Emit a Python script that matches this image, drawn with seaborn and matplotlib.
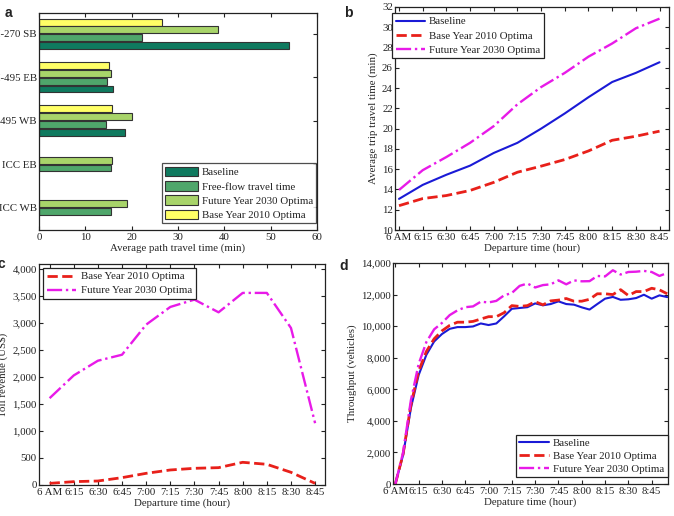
import numpy as np
import pandas as pd
import matplotlib
matplotlib.use("Agg")
import matplotlib.pyplot as plt
import seaborn as sns
from matplotlib.ticker import FuncFormatter

# ---------------- data ----------------
routes = ["I-270 SB", "I-495 EB", "I-495 WB", "ICC EB", "ICC WB"]
baseline_path = [53.9, 15.9, 18.5, np.nan, np.nan]
freeflow_path = [22.3, 14.7, 14.4, 15.6, 15.6]
future_path = [38.7, 15.6, 20.0, 15.7, 18.9]
base2010_path = [26.5, 15.1, 15.7, np.nan, np.nan]

times = ["6 AM", "6:15", "6:30", "6:45", "7:00", "7:15", "7:30", "7:45",
         "8:00", "8:15", "8:30", "8:45"]

trip_baseline = [13.07, 14.45, 15.45, 16.35, 17.6, 18.6, 20.0, 21.5, 23.1, 24.6, 25.5, 26.55]
trip_base2010 = [12.4, 13.1, 13.4, 13.9, 14.7, 15.7, 16.3, 16.95, 17.8, 18.85, 19.25, 19.75]
trip_future = [13.95, 15.9, 17.2, 18.6, 20.25, 22.4, 24.1, 25.5, 27.1, 28.4, 29.9, 30.85]

toll_base2010 = [30, 62, 74, 136, 216, 278, 309, 321, 420, 383, 235, 30]
toll_future = [1607, 2028, 2300, 2411, 2968, 3295, 3431, 3196, 3555, 3555, 2906, 1144]

thr_minutes = [0, 5, 10, 15, 20, 25, 30, 35, 40, 45, 50, 55, 60, 65, 70, 75, 80, 85,
               90, 95, 100, 105, 110, 115, 120, 125, 130, 135, 140, 145, 150, 155,
               160, 165, 170, 175]
thr_baseline = [0, 1840, 4800, 6900, 8190, 9030, 9500, 9830, 9940, 9940, 9980, 10170,
                10070, 10170, 10620, 11100, 11150, 11200, 11440, 11320, 11400, 11570,
                11400, 11360, 11190, 11050, 11400, 11740, 11850, 11670, 11700, 11780,
                11990, 11740, 11950, 11840]
thr_base2010 = [0, 1900, 5000, 7150, 8400, 9200, 9700, 10050, 10250, 10250, 10300, 10450,
                10600, 10600, 10850, 11300, 11250, 11300, 11550, 11350, 11600, 11650,
                11750, 11580, 11580, 11700, 12050, 12050, 12000, 12310, 11940, 12190,
                12190, 12400, 12300, 12050]
thr_future = [0, 2000, 5300, 7600, 9000, 9800, 10200, 10700, 11000, 11200, 11250, 11550,
              11500, 11600, 11950, 12100, 12550, 12700, 12450, 12600, 12650, 12900,
              12650, 12900, 12840, 12850, 13180, 13150, 13540, 13270, 13430, 13450,
              13500, 13430, 13180, 13370]
thr_tick_minutes = [0, 15, 30, 45, 60, 75, 90, 105, 120, 135, 150, 165]

# ---------------- style ----------------
FS = 7.8
sns.set_style("ticks")
plt.rcParams["font.family"] = ["Liberation Serif", "DejaVu Serif"]
plt.rcParams["font.size"] = FS
plt.rcParams["xtick.direction"] = "in"
plt.rcParams["ytick.direction"] = "in"
plt.rcParams["xtick.top"] = True
plt.rcParams["ytick.right"] = True
plt.rcParams["axes.linewidth"] = 0.9
plt.rcParams["axes.edgecolor"] = "#222222"
plt.rcParams["xtick.major.size"] = 3
plt.rcParams["ytick.major.size"] = 3
plt.rcParams["xtick.major.pad"] = 2
plt.rcParams["ytick.major.pad"] = 1.5
plt.rcParams["xtick.labelsize"] = FS
plt.rcParams["ytick.labelsize"] = FS
plt.rcParams["axes.labelsize"] = FS
plt.rcParams["text.color"] = "#222222"
plt.rcParams["xtick.color"] = "#222222"
plt.rcParams["ytick.color"] = "#222222"

W, H = 674, 516
fig = plt.figure(figsize=(W / 100, H / 100), dpi=100)


def ax_px(left, top, right, bottom):
    return fig.add_axes([left / W, 1 - bottom / H, (right - left) / W, (bottom - top) / H])


def legend_box(ax, **kw):
    leg = ax.legend(frameon=True, fancybox=False, borderpad=0.35, handletextpad=0.4,
                    borderaxespad=0, fontsize=FS, **kw)
    leg.get_frame().set_edgecolor("#222222")
    leg.get_frame().set_linewidth(0.9)
    leg.get_frame().set_alpha(1)
    return leg


comma = FuncFormatter(lambda v, p: f"{int(v):,}")

c_blue = "#1a1ad6"
c_red = "#e8201a"
c_mag = "#e81ae8"

# ---------------- panel a ----------------
ax_a = ax_px(39, 13, 317, 230)
s_base = "Baseline"
s_free = "Free-flow travel time"
s_fut = "Future Year 2030 Optima"
s_b10 = "Base Year 2010 Optima"
rows = []
for i, r in enumerate(routes):
    for s, vals in [(s_base, baseline_path), (s_free, freeflow_path),
                    (s_fut, future_path), (s_b10, base2010_path)]:
        if not np.isnan(vals[i]):
            rows.append({"route": r, "series": s, "value": vals[i]})
df_a = pd.DataFrame(rows)
pal_a = {s_base: "#0f7a5f", s_free: "#4fa66b", s_fut: "#a8d46a", s_b10: "#ffff66"}
sns.barplot(data=df_a, y="route", x="value", hue="series", order=routes,
            hue_order=[s_b10, s_fut, s_free, s_base], palette=pal_a, orient="h",
            width=0.72, gap=0.12, edgecolor="#333333", linewidth=0.8,
            errorbar=None, saturation=1, ax=ax_a)
ax_a.set_xlim(0, 60)
ax_a.set_ylim(4.52, -0.48)
ax_a.set_xticks(range(0, 61, 10))
ax_a.set_xlabel("Average path travel time (min)", labelpad=1)
ax_a.set_ylabel("")
h, l = ax_a.get_legend_handles_labels()
order = [l.index(s) for s in [s_base, s_free, s_fut, s_b10]]
ax_a.get_legend().remove()
leg = ax_a.legend([h[k] for k in order], [l[k] for k in order], loc="lower right",
                  bbox_to_anchor=(0.998, 0.03), frameon=True, fancybox=False,
                  borderpad=0.3, handletextpad=0.4, borderaxespad=0, fontsize=FS,
                  handlelength=3.0, handleheight=1.0, labelspacing=0.35)
leg.get_frame().set_edgecolor("#222222")
leg.get_frame().set_linewidth(0.9)

# ---------------- panel b ----------------
ax_b = ax_px(395, 7, 669, 230)
xi = list(range(len(times)))
sns.lineplot(x=xi, y=trip_baseline, color=c_blue, lw=1.5, label="Baseline", ax=ax_b)
sns.lineplot(x=xi, y=trip_base2010, color=c_red, lw=2.0, linestyle="--",
             label="Base Year 2010 Optima", ax=ax_b)
sns.lineplot(x=xi, y=trip_future, color=c_mag, lw=1.7, linestyle="-.",
             label="Future Year 2030 Optima", ax=ax_b)
ax_b.set_xlim(-0.17, 11.4)
ax_b.set_ylim(10, 32)
ax_b.set_yticks(range(10, 33, 2))
ax_b.set_xticks(xi)
ax_b.set_xticklabels(times)
ax_b.set_xlabel("Departure time (hour)", labelpad=1)
ax_b.set_ylabel("Average trip travel time (min)", labelpad=3)
legend_box(ax_b, loc="upper left", bbox_to_anchor=(-0.012, 0.973), handlelength=2.7,
           labelspacing=0.42)

# ---------------- panel c ----------------
ax_c = ax_px(39, 264, 325, 485)
sns.lineplot(x=xi, y=toll_base2010, color=c_red, lw=2.0, linestyle="--",
             label="Base Year 2010 Optima", ax=ax_c)
sns.lineplot(x=xi, y=toll_future, color=c_mag, lw=1.7, linestyle="-.",
             label="Future Year 2030 Optima", ax=ax_c)
ax_c.set_xlim(-0.44, 11.41)
ax_c.set_ylim(0, 4090)
ax_c.set_yticks(range(0, 4001, 500))
ax_c.yaxis.set_major_formatter(comma)
ax_c.set_xticks(xi)
ax_c.set_xticklabels(times)
ax_c.set_xlabel("Departure time (hour)", labelpad=1)
ax_c.set_ylabel("Toll revenue (US$)", labelpad=3)
legend_box(ax_c, loc="upper left", bbox_to_anchor=(0.015, 0.982), handlelength=2.7,
           labelspacing=0.42)

# ---------------- panel d ----------------
ax_d = ax_px(393, 263, 668, 484)
sns.lineplot(x=thr_minutes, y=thr_baseline, color=c_blue, lw=1.5, label="Baseline", ax=ax_d)
sns.lineplot(x=thr_minutes, y=thr_base2010, color=c_red, lw=2.0, linestyle="--",
             label="Base Year 2010 Optima", ax=ax_d)
sns.lineplot(x=thr_minutes, y=thr_future, color=c_mag, lw=1.7, linestyle="-.",
             label="Future Year 2030 Optima", ax=ax_d)
ax_d.set_xlim(-1.5, 175.5)
ax_d.set_ylim(0, 14000)
ax_d.set_yticks(range(0, 14001, 2000))
ax_d.yaxis.set_major_formatter(comma)
ax_d.set_xticks(thr_tick_minutes)
ax_d.set_xticklabels(times)
ax_d.set_xlabel("Depature time (hour)", labelpad=1)
ax_d.set_ylabel("Throughput (vehicles)", labelpad=3)
legend_box(ax_d, loc="lower right", bbox_to_anchor=(1.0, 0.03), handlelength=2.7,
           labelspacing=0.3)

# ---------------- panel letters ----------------
for txt, x, y in [("a", 5, 17), ("b", 344, 17), ("c", -2, 268), ("d", 339, 270)]:
    fig.text(x / W, 1 - y / H, txt, fontsize=10, fontweight="bold",
             family=["Liberation Sans", "DejaVu Sans"], va="baseline", ha="left")

fig.savefig("out.png", dpi=100)
